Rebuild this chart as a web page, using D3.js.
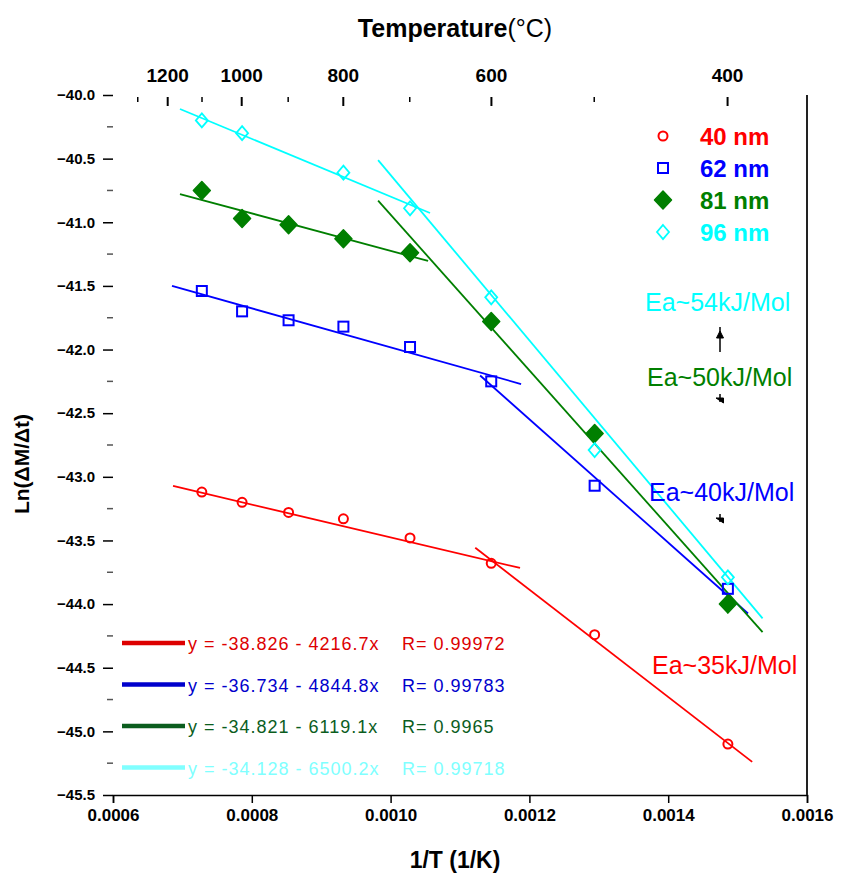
<!DOCTYPE html>
<html>
<head>
<meta charset="utf-8">
<script src="https://cdn.jsdelivr.net/npm/d3@7"></script>
<style>
  html, body { margin: 0; padding: 0; background: #fff; }
  svg { display: block; }
  .ax { font-family: 'Liberation Sans Narrow', 'Liberation Sans', Arial, sans-serif; font-weight: bold; fill: #000; }
  .lab { font-family: 'Liberation Sans', Arial, sans-serif; }
</style>
</head>
<body>
<svg id="chart" width="842" height="878"></svg>
<script>
// Inverse absolute temperature (1/K) for 1100, 1000, ... 400 °C
const invT = [0.000728, 0.000786, 0.000853, 0.000932, 0.001028, 0.001145, 0.001294, 0.001486];

// Ln(ΔM/Δt) for each particle size
const ln40 = [-43.12, -43.20, -43.28, -43.33, -43.48, -43.68, -44.24, -45.10];
const ln62 = [-41.54, -41.70, -41.77, -41.82, -41.98, -42.25, -43.07, -43.88];
const ln81 = [-40.75, -40.97, -41.02, -41.13, -41.24, -41.78, -42.66, -44.00];
const ln96 = [-40.20, -40.30, null, -40.61, -40.89, -41.59, -42.79, -43.79];

const seriesNames = ["40 nm", "62 nm", "81 nm", "96 nm"];
const seriesColors = ["#ff0000", "#0000ff", "#007f00", "#00ffff"];
const fitColors = ["#dd0000", "#0000cc", "#0b5d1e", "#80ffff"];
const symbols = ["circle", "square", "diamondFilled", "diamond"];

// Low-temperature (steep) linear fits: y = a + b*x over [x0, x1]
const fitIntercept = [-38.826, -36.734, -34.821, -34.128];
const fitSlope = [-4216.7, -4844.8, -6119.1, -6500.2];
const fitR = ["0.99972", "0.99783", "0.9965", "0.99718"];
const fitRange = [[0.001122, 0.001521], [0.001129, 0.001515], [0.000982, 0.001536], [0.000982, 0.001536]];

// High-temperature (shallow) fit segments: [x0, y0, x1, y1]
const shallowFits = [
  [0.0006865, -43.072, 0.0011865, -43.716],
  [0.000685, -41.50, 0.001188, -42.271],
  [0.0006965, -40.778, 0.001054, -41.304],
  [0.0006965, -40.11, 0.0010568, -40.927]
];

const eaLabels = ["Ea~35kJ/Mol", "Ea~40kJ/Mol", "Ea~50kJ/Mol", "Ea~54kJ/Mol"];

const xTicks = [0.0006, 0.0008, 0.0010, 0.0012, 0.0014, 0.0016];
const yTicks = [-40.0, -40.5, -41.0, -41.5, -42.0, -42.5, -43.0, -43.5, -44.0, -44.5, -45.0, -45.5];
const tempTicks = [1300, 1200, 1100, 1000, 900, 800, 700, 600, 500, 400];
const tempLabels = [1200, 1000, 800, 600, 400];

const svg = d3.select("#chart");
const x = d3.scaleLinear().domain([0.0006, 0.0016]).range([113, 807]);
const y = d3.scaleLinear().domain([-45.5, -40.0]).range([795, 95]);

// Bottom axis
const xAxis = d3.axisBottom(x).tickValues(xTicks).tickFormat(d3.format(".4f")).tickSizeOuter(0).tickSize(8).tickPadding(6);
const gx = svg.append("g").attr("transform", "translate(0,795)").call(xAxis);
gx.select(".domain").attr("stroke", "#000").attr("stroke-width", 1.5);
gx.selectAll(".tick line").attr("stroke", "#000").attr("stroke-width", 1.5);
gx.selectAll("text").attr("class", "ax").style("font-size", "17px");

// Left axis (ticks only)
const yAxis = d3.axisLeft(y).tickValues(yTicks).tickFormat(d3.format(".1f")).tickSize(10).tickPadding(8);
const gy = svg.append("g").attr("transform", "translate(113,0)").call(yAxis);
gy.select(".domain").remove();
gy.selectAll(".tick line").attr("stroke", "#000").attr("stroke-width", 1.5);
gy.selectAll("text").attr("class", "ax").style("font-size", "15px");
const yMinor = d3.range(0, yTicks.length - 1).map(i => (yTicks[i] + yTicks[i + 1]) / 2);
svg.append("g").selectAll("line").data(yMinor).join("line")
  .attr("x1", 107).attr("x2", 113).attr("y1", d => y(d)).attr("y2", d => y(d))
  .attr("stroke", "#555").attr("stroke-width", 1.5);

// Right frame line
svg.append("line").attr("x1", 807).attr("x2", 807).attr("y1", 95).attr("y2", 795)
  .attr("stroke", "#222").attr("stroke-width", 2);

// Top temperature axis
const tx = t => x(1 / (t + 273.15));
svg.append("g").selectAll("line").data(tempTicks).join("line")
  .attr("x1", d => tx(d)).attr("x2", d => tx(d))
  .attr("y1", 97).attr("y2", d => tempLabels.includes(d) ? 106 : 102)
  .attr("stroke", "#000").attr("stroke-width", d => tempLabels.includes(d) ? 2 : 1.5);
svg.append("g").selectAll("text").data(tempLabels).join("text")
  .attr("class", "ax").attr("x", d => tx(d)).attr("y", 82)
  .attr("text-anchor", "middle").style("font-size", "19px").text(d => d);

// Axis titles
const tt = svg.append("text").attr("class", "ax").attr("x", 455).attr("y", 37)
  .attr("text-anchor", "middle").style("font-size", "25px");
tt.append("tspan").text("Temperature");
tt.append("tspan").attr("font-weight", "normal").text("(°C)");
svg.append("text").attr("class", "ax").attr("x", 455).attr("y", 868)
  .attr("text-anchor", "middle").style("font-size", "23px").text("1/T (1/K)");
svg.append("text").attr("class", "ax").attr("transform", "translate(29,464) rotate(-90)")
  .attr("text-anchor", "middle").style("font-size", "21px").text("Ln(ΔM/Δt)");

// Fit lines
const plot = svg.append("g");
shallowFits.forEach((s, i) => {
  plot.append("line")
    .attr("x1", x(s[0])).attr("y1", y(s[1])).attr("x2", x(s[2])).attr("y2", y(s[3]))
    .attr("stroke", seriesColors[i]).attr("stroke-width", 1.8);
});
fitRange.forEach((r, i) => {
  plot.append("line")
    .attr("x1", x(r[0])).attr("y1", y(fitIntercept[i] + fitSlope[i] * r[0]))
    .attr("x2", x(r[1])).attr("y2", y(fitIntercept[i] + fitSlope[i] * r[1]))
    .attr("stroke", seriesColors[i]).attr("stroke-width", 1.8);
});

// Markers
const diamondPath = (hw, hh) => `M0,${-hh}L${hw},0L0,${hh}L${-hw},0Z`;
function drawSymbol(g, type, cx, cy, color) {
  if (type === "circle") {
    g.append("circle").attr("cx", cx).attr("cy", cy).attr("r", 4.5)
      .attr("fill", "none").attr("stroke", color).attr("stroke-width", 2);
  } else if (type === "square") {
    g.append("rect").attr("x", cx - 5).attr("y", cy - 5).attr("width", 10).attr("height", 10)
      .attr("fill", "none").attr("stroke", color).attr("stroke-width", 2);
  } else if (type === "diamondFilled") {
    g.append("path").attr("d", diamondPath(8.5, 9))
      .attr("transform", `translate(${cx},${cy})`).attr("fill", color)
      .attr("stroke", color).attr("stroke-width", 1.5).attr("stroke-linejoin", "round");
  } else {
    g.append("path").attr("d", diamondPath(6, 7))
      .attr("transform", `translate(${cx},${cy})`)
      .attr("fill", "none").attr("stroke", color).attr("stroke-width", 1.8);
  }
}
[ln40, ln62, ln81, ln96].forEach((vals, i) => {
  const g = plot.append("g");
  vals.forEach((v, j) => { if (v !== null) drawSymbol(g, symbols[i], x(invT[j]), y(v), seriesColors[i]); });
});

// Series legend
const leg = svg.append("g");
seriesNames.forEach((n, i) => {
  const ly = 136 + i * 32;
  drawSymbol(leg, symbols[i], 663, ly, seriesColors[i]);
  leg.append("text").attr("class", "lab").attr("x", 700).attr("y", ly + 9)
    .attr("font-weight", "bold").style("font-size", "24px").attr("fill", seriesColors[i]).text(n);
});

// Fit equation legend
fitIntercept.forEach((a, i) => {
  const ly = 643 + i * 41.5;
  svg.append("line").attr("x1", 122).attr("x2", 185).attr("y1", ly).attr("y2", ly)
    .attr("stroke", fitColors[i]).attr("stroke-width", 4.5);
  svg.append("text").attr("class", "lab").attr("x", 188).attr("y", ly + 7)
    .style("font-size", "18px").style("letter-spacing", "1px").attr("fill", fitColors[i])
    .text(`y = ${a.toFixed(3)} - ${Math.abs(fitSlope[i]).toFixed(1)}x`);
  svg.append("text").attr("class", "lab").attr("x", 402).attr("y", ly + 7)
    .style("font-size", "18px").style("letter-spacing", "1px").attr("fill", fitColors[i]).text(`R= ${fitR[i]}`);
});

// Activation energy annotations
const eaPos = [[652, 665], [649, 492], [647, 377], [645, 302]];
eaLabels.forEach((t, i) => {
  svg.append("text").attr("class", "lab").attr("x", eaPos[i][0]).attr("y", eaPos[i][1] + 9)
    .style("font-size", "25px").attr("fill", seriesColors[i]).text(t);
});

// Small arrows between annotations
const arr = svg.append("g").attr("fill", "#000").attr("stroke", "#000");
arr.append("line").attr("x1", 720).attr("x2", 720).attr("y1", 327).attr("y2", 352).attr("stroke-width", 1.5);
arr.append("path").attr("d", "M720,331 L723.5,338 L716.5,338 Z");
arr.append("line").attr("x1", 720).attr("x2", 720).attr("y1", 394).attr("y2", 402).attr("stroke-width", 1.5);
arr.append("path").attr("d", "M716,398 L723.5,398 L723.5,403 Z");
arr.append("line").attr("x1", 720).attr("x2", 720).attr("y1", 514).attr("y2", 522).attr("stroke-width", 1.5);
arr.append("path").attr("d", "M716,518 L723.5,518 L723.5,523 Z");
</script>
</body>
</html>
